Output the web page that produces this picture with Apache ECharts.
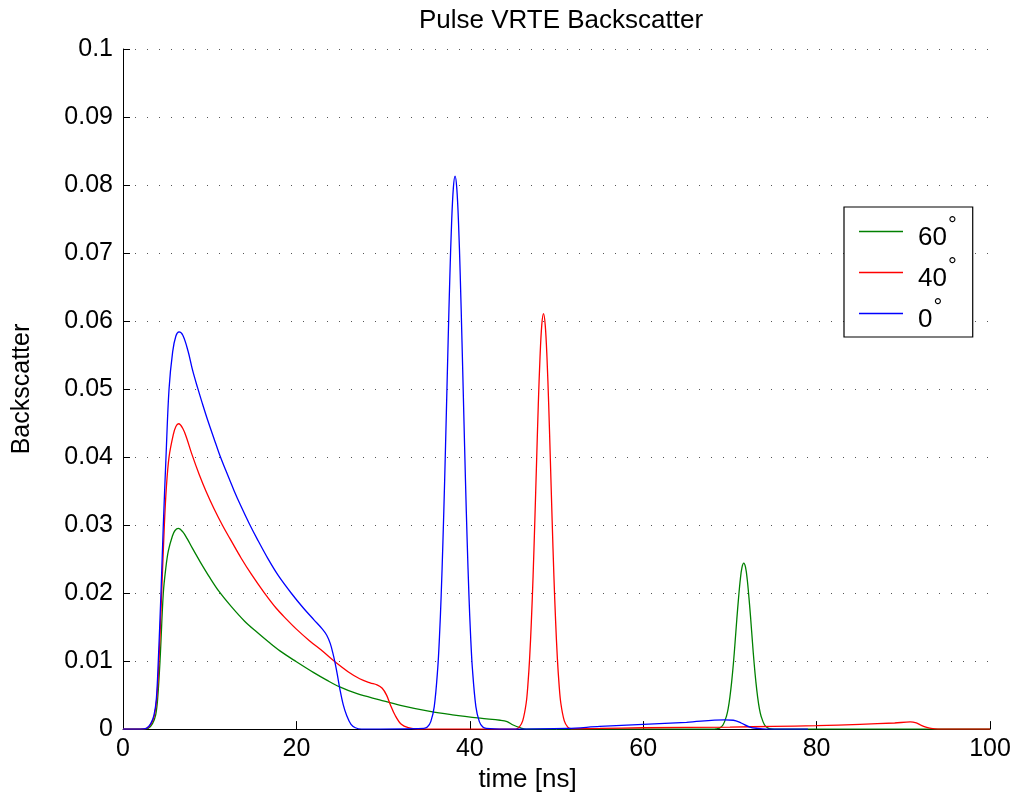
<!DOCTYPE html>
<html>
<head>
<meta charset="utf-8">
<script src="https://cdn.jsdelivr.net/npm/echarts@6/dist/echarts.min.js"></script>
<style>
  html, body { margin: 0; padding: 0; background: #ffffff; }
  #chart { width: 1016px; height: 798px; }
</style>
</head>
<body>
<div id="chart"></div>
<script>
// Incidence angles (degrees) shown in the legend, in plotting order
const angles = ['60', '40', '0'];
const lineColors = ['#008000', '#ff0000', '#0000ff'];

// Backscatter vs time [ns], one [t, value] pair per sample
const green60 = [
  [0, 0], [2.2, 0], [2.9, 0.0001], [3.4, 0.0008], [3.77, 0.0021], [4.0, 0.0045],
  [4.27, 0.01], [4.65, 0.02], [4.95, 0.0238], [5.23, 0.0262], [5.7, 0.0284],
  [6.0, 0.0292], [6.38, 0.0295], [6.9, 0.0290], [7.4, 0.0280], [8.0, 0.0266],
  [8.9, 0.0246], [10.0, 0.0223], [11.1, 0.0202], [12.5, 0.0180], [14.0, 0.0159],
  [15.4, 0.0143], [16.8, 0.0128], [18.1, 0.0115], [20, 0.0099], [22, 0.0083],
  [23.5, 0.0072], [25, 0.0062], [27, 0.0052], [29.6, 0.0043], [32, 0.0035],
  [35.4, 0.0026], [38, 0.0021], [41.2, 0.0016], [43.5, 0.0013], [44.3, 0.0011],
  [45.0, 0.0006], [45.8, 0.0002], [46.5, 0], [68.0, 0],
  [68.4, 0.00003], [68.8, 0.00015], [69.2, 0.0006], [69.6, 0.0019], [69.8, 0.0030],
  [70.0, 0.0047], [70.2, 0.0069], [70.4, 0.0096], [70.6, 0.0128], [70.8, 0.0162],
  [71.0, 0.0193], [71.2, 0.0220], [71.4, 0.0238], [71.6, 0.0244], [71.8, 0.0238],
  [72.0, 0.0220], [72.2, 0.0193], [72.4, 0.0162], [72.6, 0.0128], [72.8, 0.0096],
  [73.0, 0.0069], [73.2, 0.0047], [73.4, 0.0030], [73.6, 0.0019], [74.0, 0.0006],
  [74.4, 0.00015], [74.8, 0.00003], [75.5, 0], [100, 0]
];

const red40 = [
  [0, 0], [2.0, 0], [2.7, 0.0001], [3.2, 0.0007], [3.6, 0.0019], [3.9, 0.0045],
  [4.15, 0.01], [4.46, 0.02], [4.77, 0.03], [5.0, 0.0355], [5.31, 0.04],
  [5.8, 0.0433], [6.1, 0.0445], [6.42, 0.0449], [6.9, 0.0442], [7.34, 0.0428],
  [7.92, 0.0405], [8.8, 0.0374], [9.6, 0.0349], [10.5, 0.0324], [11.5, 0.0299],
  [12.34, 0.0280], [13.6, 0.0252], [14.84, 0.0227], [16.26, 0.0201], [17.65, 0.0178],
  [18.9, 0.0161], [20, 0.0147], [21.5, 0.0130], [23.07, 0.0114], [24.45, 0.0099],
  [26, 0.0084], [27.3, 0.0074], [28.5, 0.0068], [29.3, 0.0065], [29.9, 0.0060],
  [30.4, 0.0050], [30.8, 0.0037], [31.4, 0.0020], [32.1, 0.0007], [32.9, 0.0002],
  [34, 0], [45.3, 0],
  [45.7, 0.0003], [46.1, 0.0012], [46.5, 0.0038], [46.7, 0.0065], [46.9, 0.0104],
  [47.1, 0.0158], [47.3, 0.0225], [47.5, 0.0306], [47.7, 0.0392], [47.9, 0.0477],
  [48.1, 0.0547], [48.3, 0.0594], [48.5, 0.0611], [48.7, 0.0594], [48.9, 0.0547],
  [49.1, 0.0477], [49.3, 0.0392], [49.5, 0.0306], [49.7, 0.0225], [49.9, 0.0158],
  [50.1, 0.0104], [50.3, 0.0065], [50.5, 0.0038], [50.9, 0.0012], [51.3, 0.0003],
  [51.7, 0.00005], [55, 0.0001], [60, 0.0002], [70, 0.0003], [75, 0.0004],
  [80, 0.0005], [85, 0.0007], [89, 0.0009], [90.8, 0.00105], [91.5, 0.0009],
  [92.0, 0.0006], [92.6, 0.0003], [93.2, 0.0001], [94, 0], [100, 0]
];

const blue0 = [
  [0, 0], [2.0, 0], [2.7, 0.0001], [3.2, 0.0008], [3.58, 0.0021], [3.85, 0.0045],
  [4.07, 0.01], [4.38, 0.02], [4.65, 0.03], [4.96, 0.04], [5.31, 0.05],
  [5.73, 0.0555], [6.1, 0.0578], [6.46, 0.0584], [6.9, 0.0579], [7.5, 0.0556],
  [8.04, 0.0527], [8.6, 0.0502], [9.15, 0.0479], [9.8, 0.0453], [10.5, 0.0427],
  [11.1, 0.0405], [11.9, 0.0379], [12.8, 0.0351], [13.6, 0.0328], [14.57, 0.0302],
  [15.5, 0.0279], [16.7, 0.0251], [17.9, 0.0226], [19.46, 0.0199], [20.8, 0.0178],
  [22.0, 0.0161], [23.0, 0.0147], [23.5, 0.0138], [23.9, 0.0126], [24.2, 0.0112],
  [24.45, 0.0098], [24.75, 0.0078], [25.0, 0.0060], [25.4, 0.0036], [25.8, 0.0020],
  [26.3, 0.0007], [26.8, 0.0002], [27.5, 0], [34.7, 0.0001],
  [35.1, 0.0003], [35.5, 0.0011], [35.9, 0.0033], [36.3, 0.0089], [36.5, 0.0135],
  [36.7, 0.0197], [36.9, 0.0275], [37.1, 0.0366], [37.3, 0.0467], [37.5, 0.0570],
  [37.7, 0.0666], [37.9, 0.0744], [38.1, 0.0795], [38.3, 0.0813], [38.5, 0.0795],
  [38.7, 0.0744], [38.9, 0.0666], [39.1, 0.0570], [39.3, 0.0467], [39.5, 0.0366],
  [39.7, 0.0275], [39.9, 0.0197], [40.1, 0.0135], [40.3, 0.0089], [40.7, 0.0033],
  [41.1, 0.0011], [41.5, 0.0003], [41.9, 0.0001], [44, 0], [51.2, 0.0001],
  [55, 0.0004], [60, 0.0007], [65, 0.0010], [69.4, 0.00135], [70.4, 0.0013],
  [71.3, 0.0009], [72.3, 0.0003], [73.2, 0.0001], [74.2, 0], [79, 0]
];

const seriesData = [green60, red40, blue0];

// Axis ranges and tick spacing
const timeAxis = { min: 0, max: 100, step: 20 };
const backscatterAxis = { min: 0, max: 0.1, step: 0.01 };

const FONT = 'Liberation Sans, Arial, sans-serif';

const chart = echarts.init(document.getElementById('chart'), null, { renderer: 'canvas' });

chart.setOption({
  animation: false,
  backgroundColor: '#ffffff',
  textStyle: { fontFamily: FONT, color: '#000' },
  title: {
    text: 'Pulse VRTE Backscatter',
    left: 556,
    top: 3,
    textAlign: 'center',
    textStyle: { fontFamily: FONT, fontSize: 26, fontWeight: 'normal', color: '#000' }
  },
  grid: { left: 123, right: 26, top: 49, bottom: 64, containLabel: false },
  legend: {
    orient: 'vertical',
    left: 844,
    top: 207,
    data: angles,
    icon: 'rect',
    itemWidth: 44,
    itemHeight: 1.4,
    itemGap: 5,
    padding: [8, 16, 4, 15],
    backgroundColor: '#ffffff',
    borderColor: '#000000',
    borderWidth: 1.2,
    borderRadius: 0,
    formatter: function (name) { return '{n|' + name + '}{d|°}'; },
    textStyle: {
      fontFamily: FONT,
      color: '#000',
      padding: [3, 0, 0, 10],
      rich: {
        n: { fontFamily: FONT, fontSize: 26, lineHeight: 36, color: '#000', verticalAlign: 'bottom' },
        d: { fontFamily: FONT, fontSize: 22, lineHeight: 22, color: '#000', verticalAlign: 'top', padding: [0, 0, 0, 1] }
      }
    }
  },
  xAxis: {
    type: 'value',
    min: timeAxis.min,
    max: timeAxis.max,
    interval: timeAxis.step,
    name: 'time [ns]',
    nameLocation: 'middle',
    nameGap: 32,
    nameTextStyle: { fontFamily: FONT, fontSize: 26, color: '#000', padding: [0, 58, 0, 0] },
    axisLine: { show: true, lineStyle: { color: '#000', width: 1 } },
    axisTick: { show: true, inside: true, length: 8, lineStyle: { color: '#000', width: 1 } },
    axisLabel: { fontFamily: FONT, fontSize: 25, color: '#000', margin: 8 },
    splitLine: { show: false }
  },
  yAxis: {
    type: 'value',
    min: backscatterAxis.min,
    max: backscatterAxis.max,
    interval: backscatterAxis.step,
    name: 'Backscatter',
    nameLocation: 'middle',
    nameGap: 88,
    nameTextStyle: { fontFamily: FONT, fontSize: 25, color: '#000' },
    axisLine: { show: true, lineStyle: { color: '#000', width: 1 } },
    axisTick: { show: true, inside: true, length: 7, lineStyle: { color: '#000', width: 1 } },
    axisLabel: { fontFamily: FONT, fontSize: 25, color: '#000', margin: 10 },
    splitLine: { show: true, lineStyle: { color: '#555', width: 1, type: [1, 11] } }
  },
  series: seriesData.map(function (pts, i) {
    return {
      name: angles[i],
      type: 'line',
      data: pts,
      showSymbol: false,
      symbol: 'none',
      smooth: 0.35,
      lineStyle: { color: lineColors[i], width: 1.3 },
      itemStyle: { color: lineColors[i] },
      z: 2 + i
    };
  })
});
</script>
</body>
</html>
